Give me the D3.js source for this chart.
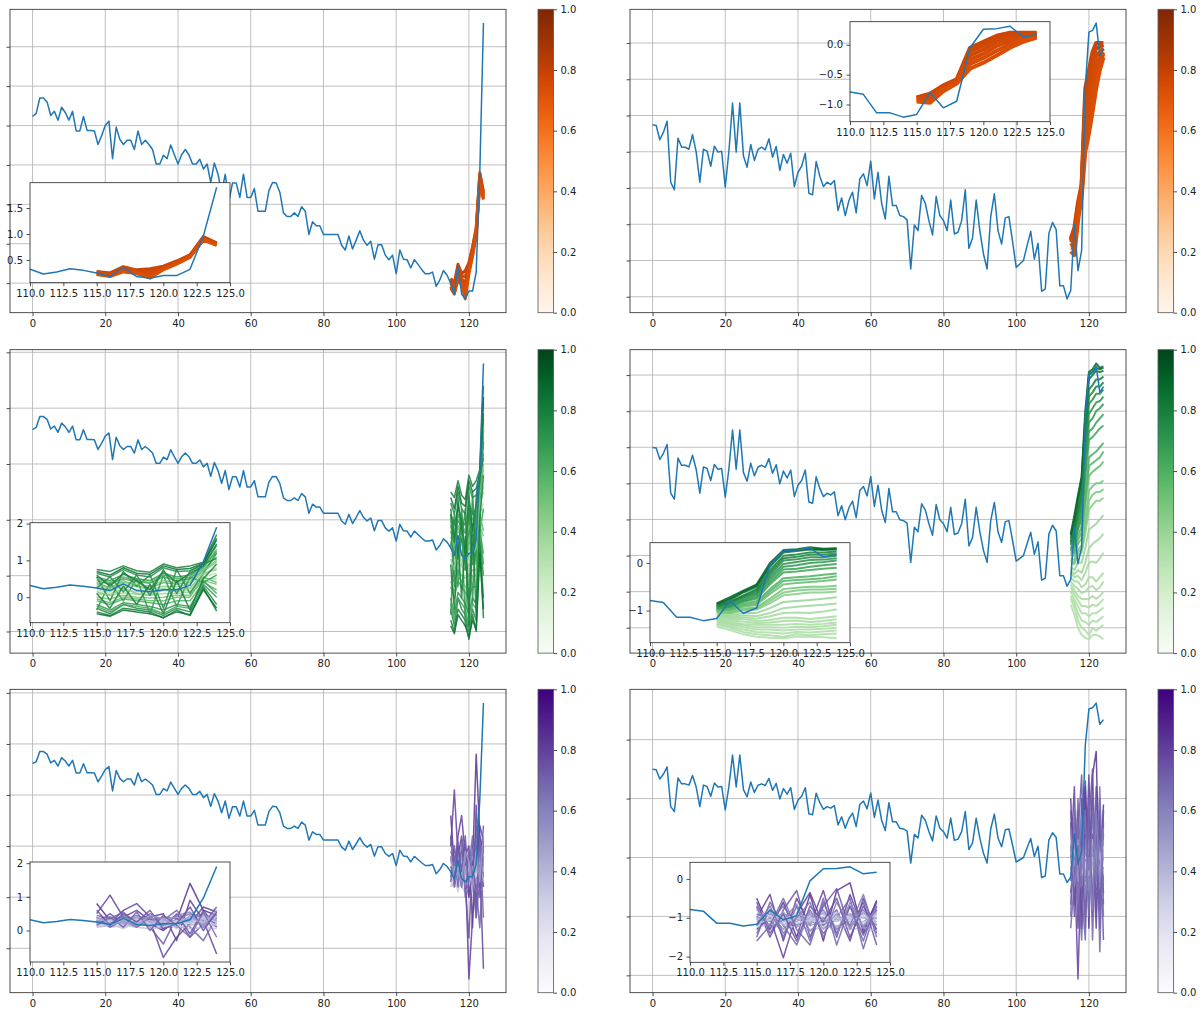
<!DOCTYPE html>
<html>
<head>
<meta charset="utf-8">
<script src="https://cdn.jsdelivr.net/npm/d3@7"></script>
<style>
  body { margin: 0; background: #fff; }
</style>
</head>
<body>
<svg id="chart" width="1202" height="1013"></svg>
<script>
// blue series, left column panels (index 0..124)
var seriesLeft = [
  1.307, 1.327, 1.425, 1.425, 1.40, 1.314, 1.34, 1.284, 1.366, 1.333,
  1.284, 1.34, 1.216, 1.216, 1.307, 1.219, 1.219, 1.216, 1.13, 1.186,
  1.25, 1.278, 1.04, 1.24, 1.163, 1.13, 1.157, 1.157, 1.098, 1.216,
  1.13, 1.157, 1.13, 1.098, 1.006, 1.006, 1.062, 1.04, 1.127, 1.065,
  1.006, 1.065, 1.098, 1.065, 1.006, 1.006, 1.036, 0.974, 1.006, 0.889,
  1.013, 0.941, 0.827, 0.941, 0.771, 0.886, 0.886, 0.794, 0.941, 0.794,
  0.794, 0.85, 0.706, 0.706, 0.706, 0.837, 0.889, 0.886, 0.827, 0.696,
  0.673, 0.673, 0.696, 0.673, 0.735, 0.706, 0.559, 0.64, 0.614, 0.614,
  0.559, 0.559, 0.559, 0.559, 0.559, 0.49, 0.46, 0.549, 0.467, 0.523,
  0.582, 0.523, 0.49, 0.516, 0.402, 0.493, 0.493, 0.428, 0.399, 0.428,
  0.31, 0.46, 0.402, 0.399, 0.346, 0.399, 0.369, 0.337, 0.31, 0.31,
  0.32, 0.23, 0.27, 0.33, 0.30, 0.25, 0.18, 0.36, 0.18, 0.15,
  0.20, 0.20, 0.32, 0.96, 1.90
];

// blue series, right column panels
var seriesRight = [
  -0.251, -0.255, -0.334, -0.292, -0.231, -0.568, -0.610, -0.325, -0.375, -0.375,
  -0.386, -0.305, -0.402, -0.568, -0.386, -0.397, -0.480, -0.369, -0.402, -0.397,
  -0.596, -0.397, -0.131, -0.402, -0.131, -0.424, -0.485, -0.36, -0.448, -0.387,
  -0.375, -0.389, -0.329, -0.43, -0.371, -0.503, -0.415, -0.463, -0.408, -0.592,
  -0.513, -0.48, -0.408, -0.629, -0.638, -0.454, -0.535, -0.592, -0.568, -0.581,
  -0.559, -0.724, -0.655, -0.752, -0.669, -0.623, -0.737, -0.55, -0.522, -0.587,
  -0.452, -0.66, -0.513, -0.684, -0.771, -0.535, -0.697, -0.697, -0.752, -0.758,
  -0.776, -1.047, -0.804, -0.835, -0.642, -0.684, -0.78, -0.859, -0.647, -0.752,
  -0.78, -0.835, -0.666, -0.854, -0.844, -0.78, -0.61, -0.933, -0.876, -0.666,
  -0.835, -0.964, -1.047, -0.758, -0.632, -0.835, -0.909, -0.765, -0.758, -0.894,
  -1.038, -1.019, -1.0, -0.918, -0.839, -0.992, -0.905, -1.17, -1.157, -0.85,
  -0.79, -0.83, -1.14, -1.14, -1.212, -1.166, -0.80, -1.056, -0.945, -0.05,
  0.26, 0.27, 0.31, 0.13, 0.17
];

// x positions of the forecast lines
var fanSteps = [115, 116, 117, 118, 119, 120, 121, 122, 123, 124];

var fanOrangeLeft = [
  [0.28, 0.25, 0.37, 0.31, 0.33, 0.38, 0.48, 0.60, 0.95, 0.83],
  [0.27, 0.24, 0.35, 0.30, 0.29, 0.37, 0.47, 0.59, 0.94, 0.82],
  [0.26, 0.22, 0.33, 0.28, 0.25, 0.35, 0.46, 0.58, 0.92, 0.81],
  [0.25, 0.21, 0.31, 0.27, 0.21, 0.34, 0.45, 0.57, 0.91, 0.80],
  [0.23, 0.19, 0.29, 0.25, 0.18, 0.32, 0.43, 0.56, 0.89, 0.79],
  [0.22, 0.18, 0.27, 0.24, 0.15, 0.31, 0.42, 0.55, 0.88, 0.78]
];
var shadeOrangeLeft = [0.78, 0.77, 0.76, 0.75, 0.74, 0.73];

var fanOrangeRight = [
  [-0.88, -0.82, -0.68, -0.58, -0.05, 0.05, 0.15, 0.20, 0.20, 0.20],
  [-0.89, -0.84, -0.70, -0.59, -0.11, -0.01, 0.11, 0.17, 0.18, 0.19],
  [-0.90, -0.87, -0.72, -0.60, -0.18, -0.08, 0.05, 0.13, 0.15, 0.17],
  [-0.92, -0.90, -0.74, -0.62, -0.25, -0.15, -0.02, 0.07, 0.12, 0.15],
  [-0.93, -0.93, -0.76, -0.63, -0.32, -0.22, -0.10, 0.01, 0.09, 0.14],
  [-0.95, -0.97, -0.78, -0.65, -0.40, -0.30, -0.18, -0.05, 0.05, 0.12]
];
var shadeOrangeRight = [0.78, 0.77, 0.76, 0.75, 0.74, 0.73];

var fanGreenLeft = [
  [0.75, 0.70, 0.85, 0.72, 0.68, 0.90, 0.80, 0.85, 0.95, 1.70],
  [0.65, 0.55, 0.75, 0.60, 0.55, 0.80, 0.70, 0.72, 0.90, 1.55],
  [0.55, 0.45, 0.62, 0.50, 0.45, 0.65, 0.55, 0.60, 0.85, 1.40],
  [0.45, 0.35, 0.50, 0.42, 0.38, 0.55, 0.45, 0.50, 0.80, 1.25],
  [0.40, 0.25, 0.45, 0.30, 0.25, 0.40, 0.35, 0.40, 0.75, 1.10],
  [0.30, 0.20, 0.35, 0.28, 0.20, 0.30, 0.28, 0.35, 0.70, 0.95],
  [0.25, 0.15, 0.30, 0.20, 0.15, 0.25, 0.22, 0.25, 0.60, 0.80],
  [0.20, 0.10, 0.20, 0.15, 0.10, 0.18, 0.15, 0.20, 0.55, 0.65],
  [0.10, 0.05, 0.12, 0.08, 0.05, 0.10, 0.10, 0.15, 0.50, 0.50],
  [0.00, -0.05, 0.05, 0.00, -0.02, 0.00, 0.05, 0.05, 0.45, 0.35],
  [-0.10, -0.20, -0.05, -0.10, -0.15, -0.20, -0.10, -0.10, 0.40, 0.20],
  [-0.20, -0.35, -0.15, -0.20, -0.25, -0.35, -0.20, -0.25, 0.35, 0.00],
  [-0.30, -0.45, -0.20, -0.30, -0.35, -0.50, -0.30, -0.40, 0.30, -0.20],
  [-0.40, -0.50, -0.30, -0.35, -0.40, -0.57, -0.35, -0.50, 0.25, -0.38],
  [0.55, -0.10, 0.70, 0.30, 0.60, -0.30, 0.75, 0.10, 0.65, 1.20],
  [-0.35, 0.40, -0.10, 0.50, -0.45, 0.60, -0.25, 0.55, 0.40, 0.60],
  [0.70, 0.60, 0.80, 0.65, 0.62, 0.85, 0.75, 0.78, 0.92, 1.60],
  [0.50, 0.40, 0.55, 0.45, 0.40, 0.60, 0.50, 0.55, 0.82, 1.30],
  [0.35, 0.25, 0.40, 0.35, 0.30, 0.45, 0.40, 0.45, 0.72, 1.00],
  [0.15, 0.05, 0.25, 0.10, 0.05, 0.20, 0.18, 0.25, 0.65, 0.75],
  [-0.05, -0.15, 0.00, -0.05, -0.10, -0.10, 0.00, 0.00, 0.55, 0.40],
  [-0.25, -0.40, -0.20, -0.25, -0.30, -0.45, -0.25, -0.30, 0.45, 0.10],
  [0.60, 0.30, 0.65, 0.45, 0.20, 0.70, 0.40, 0.65, 0.85, 1.45],
  [-0.45, -0.52, -0.35, -0.40, -0.45, -0.55, -0.40, -0.48, 0.20, -0.30],
  [0.25, 0.55, 0.15, 0.60, 0.05, 0.75, 0.10, 0.70, 0.90, 1.05],
  [0.10, -0.30, 0.30, -0.20, 0.35, -0.45, 0.45, -0.35, 0.50, 0.90]
];
var shadeGreenLeft = [0.80, 0.75, 0.70, 0.65, 0.55, 0.45, 0.35, 0.30, 0.40, 0.50, 0.60, 0.70, 0.75, 0.80, 0.75, 0.70,
  0.85, 0.60, 0.50, 0.45, 0.55, 0.65, 0.80, 0.85, 0.75, 0.80];

var fanGreenRight = [
  [-0.85, -0.72, -0.58, -0.45, 0.00, 0.27, 0.29, 0.33, 0.30, 0.31],
  [-0.88, -0.78, -0.62, -0.50, -0.08, 0.22, 0.25, 0.28, 0.27, 0.28],
  [-0.90, -0.82, -0.68, -0.55, -0.15, 0.15, 0.18, 0.22, 0.22, 0.24],
  [-0.92, -0.85, -0.72, -0.62, -0.25, 0.05, 0.08, 0.12, 0.12, 0.15],
  [-0.95, -0.90, -0.78, -0.68, -0.35, -0.08, -0.05, 0.00, 0.02, 0.05],
  [-0.97, -0.93, -0.82, -0.75, -0.45, -0.20, -0.18, -0.15, -0.12, -0.10],
  [-0.98, -0.96, -0.86, -0.80, -0.55, -0.32, -0.30, -0.28, -0.25, -0.22],
  [-1.00, -1.00, -0.92, -0.88, -0.65, -0.45, -0.42, -0.40, -0.38, -0.35],
  [-1.02, -1.03, -0.96, -0.93, -0.75, -0.55, -0.52, -0.50, -0.50, -0.48],
  [-1.05, -1.06, -1.00, -0.98, -0.85, -0.68, -0.65, -0.62, -0.62, -0.60],
  [-1.08, -1.10, -1.05, -1.05, -0.95, -0.82, -0.80, -0.78, -0.75, -0.72],
  [-1.10, -1.13, -1.10, -1.12, -1.05, -0.95, -0.92, -0.90, -0.88, -0.85],
  [-1.15, -1.18, -1.18, -1.22, -1.20, -1.15, -1.15, -1.18, -1.15, -1.12],
  [-1.20, -1.24, -1.28, -1.30, -1.30, -1.30, -1.28, -1.30, -1.28, -1.25],
  [-1.25, -1.30, -1.35, -1.40, -1.40, -1.42, -1.40, -1.40, -1.38, -1.36],
  [-1.30, -1.36, -1.45, -1.50, -1.52, -1.55, -1.50, -1.52, -1.50, -1.48],
  [-1.34, -1.41, -1.50, -1.55, -1.57, -1.58, -1.55, -1.55, -1.56, -1.58],
  [-0.86, -0.75, -0.60, -0.47, -0.04, 0.25, 0.27, 0.30, 0.29, 0.30],
  [-0.91, -0.83, -0.70, -0.58, -0.20, 0.10, 0.13, 0.17, 0.17, 0.20],
  [-0.93, -0.88, -0.75, -0.65, -0.30, -0.02, 0.02, 0.06, 0.07, 0.10],
  [-0.96, -0.92, -0.80, -0.72, -0.40, -0.14, -0.12, -0.08, -0.05, -0.02],
  [-0.99, -0.98, -0.89, -0.84, -0.60, -0.38, -0.36, -0.34, -0.32, -0.28],
  [-1.03, -1.05, -0.98, -0.95, -0.80, -0.62, -0.58, -0.56, -0.56, -0.54],
  [-1.12, -1.15, -1.14, -1.17, -1.12, -1.05, -1.04, -1.05, -1.02, -0.98],
  [-1.18, -1.21, -1.23, -1.26, -1.25, -1.22, -1.21, -1.24, -1.22, -1.18],
  [-1.28, -1.33, -1.40, -1.45, -1.46, -1.48, -1.45, -1.46, -1.44, -1.42],
  [-1.22, -1.27, -1.31, -1.35, -1.35, -1.36, -1.34, -1.35, -1.33, -1.30]
];
var shadeGreenRight = [0.90, 0.85, 0.80, 0.75, 0.70, 0.65, 0.60, 0.55, 0.50, 0.45, 0.40, 0.38, 0.36, 0.35, 0.34, 0.34, 0.33,
  0.88, 0.78, 0.72, 0.68, 0.58, 0.48, 0.37, 0.36, 0.34, 0.35];

var fanPurpleLeft = [
  [0.80, 0.30, 0.40, 0.30, 0.20, 0.00, 0.30, 1.40, 0.60, 0.45],
  [0.50, 1.05, 0.40, 0.60, 0.30, -0.80, -0.20, 0.20, 0.70, 0.55],
  [0.30, 0.20, 0.60, 0.80, 0.40, 0.50, -0.30, 0.90, 0.30, -0.70],
  [0.20, 0.50, 0.20, 0.40, 0.10, -0.40, 0.40, -0.20, 0.20, 0.70],
  [0.45, 0.35, 0.55, 0.20, 0.50, 0.30, 0.60, 0.10, -0.30, 0.40],
  [0.35, 0.40, 0.30, 0.45, 0.30, 0.40, 0.35, 0.50, 0.40, 0.30],
  [0.30, 0.25, 0.40, 0.35, 0.40, 0.25, 0.45, 0.30, 0.50, 0.20],
  [0.25, 0.30, 0.30, 0.25, 0.30, 0.35, 0.25, 0.35, 0.30, 0.45],
  [0.20, 0.20, 0.25, 0.30, 0.20, 0.25, 0.30, 0.20, 0.35, 0.25],
  [0.15, 0.25, 0.20, 0.15, 0.25, 0.15, 0.20, 0.30, 0.20, 0.35],
  [0.10, 0.15, 0.10, 0.20, 0.15, 0.20, 0.10, 0.15, 0.25, 0.10],
  [0.25, 0.10, 0.15, 0.10, 0.05, 0.10, 0.15, 0.05, 0.10, 0.05],
  [0.15, 0.20, 0.05, 0.25, 0.10, 0.30, 0.05, 0.25, 0.15, 0.20],
  [0.40, 0.10, 0.30, 0.10, 0.35, 0.05, 0.50, -0.10, 0.60, 0.10],
  [0.30, 0.35, 0.20, 0.40, 0.25, 0.30, 0.40, 0.25, 0.45, 0.30],
  [0.20, 0.15, 0.30, 0.20, 0.30, 0.20, 0.25, 0.40, 0.25, 0.40],
  [0.35, 0.25, 0.35, 0.30, 0.15, 0.35, 0.20, 0.30, 0.35, 0.15],
  [0.10, 0.30, 0.15, 0.35, 0.20, 0.10, 0.30, 0.20, 0.40, 0.25],
  [0.25, 0.20, 0.45, 0.10, 0.40, 0.15, 0.45, 0.55, 0.10, 0.50],
  [0.60, 0.15, 0.50, 0.25, 0.60, 0.05, 0.20, 0.70, 0.00, 0.55],
  [0.15, 0.40, 0.10, 0.55, 0.00, 0.45, 0.15, -0.20, 0.55, -0.20],
  [0.40, 0.20, 0.25, 0.15, 0.45, 0.35, 0.10, 0.45, 0.15, 0.60]
];
var shadePurpleLeft = [0.85, 0.80, 0.80, 0.75, 0.70, 0.65, 0.60, 0.55, 0.50, 0.45, 0.40, 0.35, 0.30, 0.75,
  0.45, 0.40, 0.35, 0.30, 0.60, 0.75, 0.70, 0.50];

var fanPurpleRight = [
  [-0.50, -1.30, -0.60, -1.50, -0.40, -1.60, -0.30, -0.10, -1.40, -0.55],
  [-1.00, -0.40, -1.60, -0.50, -1.20, -0.30, -1.50, -0.40, -1.30, -0.60],
  [-1.30, -1.00, -2.03, -0.90, -0.35, -1.20, -0.80, -1.60, -0.50, -1.40],
  [-0.70, -1.50, -0.80, -0.30, -1.50, -0.70, -0.25, -1.30, -0.60, -1.70],
  [-1.50, -0.60, -1.20, -1.70, -0.80, -1.40, -1.00, -0.50, -1.80, -0.70],
  [-0.90, -1.10, -0.70, -1.20, -1.00, -0.80, -1.30, -1.00, -0.80, -1.20],
  [-1.10, -0.90, -1.30, -0.90, -1.10, -1.20, -0.90, -1.20, -1.10, -0.90],
  [-1.20, -1.00, -1.00, -1.10, -0.90, -1.00, -1.10, -0.90, -1.00, -1.10],
  [-1.00, -1.20, -1.10, -1.00, -1.20, -1.10, -1.00, -1.10, -1.20, -1.00],
  [-0.80, -1.00, -0.90, -1.05, -0.95, -0.90, -1.05, -0.95, -0.90, -1.00],
  [-1.25, -1.15, -1.30, -1.20, -1.30, -1.25, -1.20, -1.30, -1.25, -1.35],
  [-1.05, -0.95, -1.00, -0.95, -1.05, -1.00, -0.95, -1.05, -1.00, -0.95],
  [-0.95, -1.05, -1.15, -1.00, -1.10, -0.95, -1.10, -1.00, -1.10, -1.05],
  [-1.40, -0.80, -1.50, -0.70, -1.60, -0.50, -1.70, -0.70, -1.45, -0.80],
  [-1.05, -0.85, -1.20, -0.95, -1.15, -0.85, -1.25, -0.90, -1.20, -0.85],
  [-0.95, -1.20, -0.85, -1.25, -0.85, -1.30, -0.90, -1.25, -0.85, -1.30],
  [-1.15, -1.05, -0.95, -1.15, -1.05, -1.15, -1.00, -1.10, -0.95, -1.15],
  [-0.85, -0.95, -1.10, -0.90, -1.00, -1.05, -0.85, -1.00, -1.15, -0.90],
  [-0.60, -1.40, -0.90, -1.60, -0.70, -1.10, -0.50, -1.50, -0.70, -1.30],
  [-1.60, -1.20, -0.50, -1.30, -1.70, -0.60, -1.40, -0.70, -1.60, -0.60],
  [-1.20, -0.70, -1.40, -1.00, -0.60, -1.50, -0.60, -1.20, -0.40, -1.50],
  [-0.75, -1.25, -1.05, -0.65, -1.35, -1.00, -1.45, -0.60, -1.25, -0.75]
];
var shadePurpleRight = [0.85, 0.80, 0.80, 0.75, 0.70, 0.65, 0.60, 0.55, 0.50, 0.45, 0.40, 0.35, 0.30, 0.70,
  0.45, 0.50, 0.35, 0.30, 0.75, 0.70, 0.65, 0.60];

var xTickValues = [0, 20, 40, 60, 80, 100, 120];
var insetXTicks = [110, 112.5, 115, 117.5, 120, 122.5, 125];
var colorbarTicks = [0, 0.2, 0.4, 0.6, 0.8, 1.0];

var svg = d3.select("#chart");
var colX = [10, 630], rowY = [9.3, 349.7, 689.3];
var axW = 496, axH = 303.4;
var inW = 200, inH = 100;
var ink = "#222";
var gridColor = "#b0b0b0";
var blue = "#1f77b4";

var panels = [
  {col: 0, row: 0, series: seriesLeft, fan: fanOrangeLeft, shade: shadeOrangeLeft, cmap: d3.interpolateOranges,
   yStep: 0.25, inset: [20, 173.4], inStep: 0.5, inFmt: ".1f", lw: 3, alpha: 1},
  {col: 1, row: 0, series: seriesRight, fan: fanOrangeRight, shade: shadeOrangeRight, cmap: d3.interpolateOranges,
   yStep: 0.2, inset: [220, 12.4], inStep: 0.5, inFmt: ".1f", lw: 4, alpha: 1},
  {col: 0, row: 1, series: seriesLeft, fan: fanGreenLeft, shade: shadeGreenLeft, cmap: d3.interpolateGreens,
   yStep: 0.5, inset: [20, 173], inStep: 1, inFmt: "d", lw: 1.5, alpha: 0.85},
  {col: 1, row: 1, series: seriesRight, fan: fanGreenRight, shade: shadeGreenRight, cmap: d3.interpolateGreens,
   yStep: 0.25, inset: [20, 193], inStep: 1, inFmt: "d", lw: 2, alpha: 0.85},
  {col: 0, row: 2, series: seriesLeft, fan: fanPurpleLeft, shade: shadePurpleLeft, cmap: d3.interpolatePurples,
   yStep: 0.5, inset: [20, 172.7], inStep: 1, inFmt: "d", lw: 1.5, alpha: 0.85},
  {col: 1, row: 2, series: seriesRight, fan: fanPurpleRight, shade: shadePurpleRight, cmap: d3.interpolatePurples,
   yStep: 0.5, inset: [60, 173], inStep: 1, inFmt: "d", lw: 1.5, alpha: 0.85}
];

function tickRange(domain, step) {
  return d3.range(Math.ceil(domain[0] / step - 1e-9), Math.floor(domain[1] / step + 1e-9) + 1)
    .map(function(i) { return +(i * step).toFixed(6); });
}

function paddedExtent(values) {
  var e = d3.extent(values), pad = (e[1] - e[0]) * 0.05;
  return [e[0] - pad, e[1] + pad];
}

function styleAxis(g) {
  g.select(".domain").remove();
  g.attr("color", ink).attr("font-family", "DejaVu Sans, sans-serif").attr("font-size", 10);
  g.selectAll(".tick line").attr("stroke-width", 0.8);
}

function drawLines(sel, x, y, p) {
  var line = d3.line().x(function(d) { return x(d[0]); }).y(function(d) { return y(d[1]); });
  p.fan.forEach(function(vals, j) {
    sel.append("path")
      .datum(vals.map(function(v, i) { return [fanSteps[i], v]; }))
      .attr("d", line)
      .attr("fill", "none")
      .attr("stroke", p.cmap(p.shade[j]))
      .attr("stroke-opacity", p.alpha)
      .attr("stroke-width", p.lw)
      .attr("stroke-linejoin", "round");
  });
  sel.append("path")
    .datum(p.series.map(function(v, i) { return [i, v]; }))
    .attr("d", line)
    .attr("fill", "none")
    .attr("stroke", blue)
    .attr("stroke-width", 1.5)
    .attr("stroke-linejoin", "round");
}

function drawPanel(p, k) {
  var x0 = colX[p.col], y0 = rowY[p.row];
  var g = svg.append("g");
  var fanValues = d3.merge(p.fan);

  var x = d3.scaleLinear().domain([-6.2, 130.2]).range([x0, x0 + axW]);
  var y = d3.scaleLinear().domain(paddedExtent(p.series.concat(fanValues))).range([y0 + axH, y0]);
  var yTicks = tickRange(y.domain(), p.yStep);

  // grid
  g.selectAll(".gx").data(xTickValues).join("line")
    .attr("x1", function(d) { return x(d); }).attr("x2", function(d) { return x(d); })
    .attr("y1", y0).attr("y2", y0 + axH)
    .attr("stroke", gridColor).attr("stroke-width", 0.8);
  g.selectAll(".gy").data(yTicks).join("line")
    .attr("x1", x0).attr("x2", x0 + axW)
    .attr("y1", function(d) { return y(d); }).attr("y2", function(d) { return y(d); })
    .attr("stroke", gridColor).attr("stroke-width", 0.8);

  svg.append("clipPath").attr("id", "main" + k).append("rect")
    .attr("x", x0).attr("y", y0).attr("width", axW).attr("height", axH);
  drawLines(g.append("g").attr("clip-path", "url(#main" + k + ")"), x, y, p);

  g.append("rect").attr("x", x0).attr("y", y0).attr("width", axW).attr("height", axH)
    .attr("fill", "none").attr("stroke", ink).attr("stroke-width", 0.8);

  g.append("g").attr("transform", "translate(0," + (y0 + axH) + ")")
    .call(d3.axisBottom(x).tickValues(xTickValues).tickSize(3.5).tickPadding(3.5))
    .call(styleAxis);
  g.append("g").attr("transform", "translate(" + x0 + ",0)")
    .call(d3.axisLeft(y).tickValues(yTicks).tickSize(3.5).tickFormat(""))
    .call(styleAxis);

  // inset: zoom on the last steps
  var ix = x0 + p.inset[0], iy = y0 + p.inset[1];
  var tail = p.series.slice(110);
  var xi = d3.scaleLinear().domain([110, 125]).range([ix, ix + inW]);
  var yi = d3.scaleLinear().domain(paddedExtent(tail.concat(fanValues))).range([iy + inH, iy]);
  var ins = svg.append("g");
  ins.append("rect").attr("x", ix).attr("y", iy).attr("width", inW).attr("height", inH).attr("fill", "#fff");
  svg.append("clipPath").attr("id", "inset" + k).append("rect")
    .attr("x", ix).attr("y", iy).attr("width", inW).attr("height", inH);
  drawLines(ins.append("g").attr("clip-path", "url(#inset" + k + ")"), xi, yi, p);
  ins.append("rect").attr("x", ix).attr("y", iy).attr("width", inW).attr("height", inH)
    .attr("fill", "none").attr("stroke", ink).attr("stroke-width", 0.8);
  ins.append("g").attr("transform", "translate(0," + (iy + inH) + ")")
    .call(d3.axisBottom(xi).tickValues(insetXTicks).tickFormat(d3.format(".1f")).tickSize(3.5).tickPadding(3.5))
    .call(styleAxis);
  ins.append("g").attr("transform", "translate(" + ix + ",0)")
    .call(d3.axisLeft(yi).tickValues(tickRange(yi.domain(), p.inStep)).tickFormat(d3.format(p.inFmt)).tickSize(3.5).tickPadding(3.5))
    .call(styleAxis);

  // colorbar
  var cx = x0 + 528, cw = 15.5;
  var grad = svg.append("defs").append("linearGradient").attr("id", "cb" + k)
    .attr("x1", 0).attr("y1", 1).attr("x2", 0).attr("y2", 0);
  grad.selectAll("stop").data(d3.range(0, 21)).join("stop")
    .attr("offset", function(d) { return d / 20; })
    .attr("stop-color", function(d) { return p.cmap(d / 20); });
  g.append("rect").attr("x", cx).attr("y", y0).attr("width", cw).attr("height", axH)
    .attr("fill", "url(#cb" + k + ")").attr("stroke", "#555").attr("stroke-width", 0.8);
  var c = d3.scaleLinear().domain([0, 1]).range([y0 + axH, y0]);
  g.append("g").attr("transform", "translate(" + (cx + cw) + ",0)")
    .call(d3.axisRight(c).tickValues(colorbarTicks).tickFormat(d3.format(".1f")).tickSize(3.5).tickPadding(3.5))
    .call(styleAxis);
}

panels.forEach(drawPanel);
</script>
</body>
</html>
